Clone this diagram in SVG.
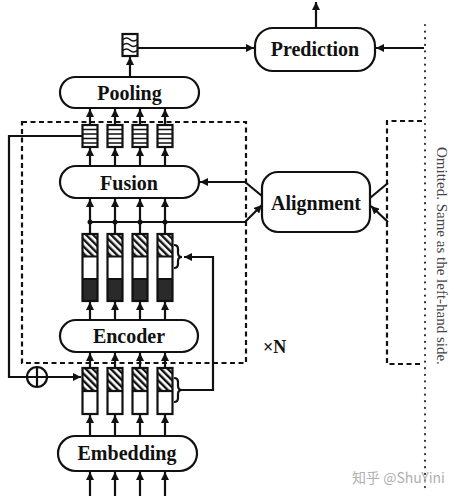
<svg xmlns="http://www.w3.org/2000/svg" xmlns:xlink="http://www.w3.org/1999/xlink" width="455" height="496" viewBox="0 0 455 496">
<style>
.box{fill:#fff;stroke:#111;stroke-width:2.2}
.frame{fill:none;stroke:#111;stroke-width:2.2}
.lbl{font-family:"Liberation Serif","Times New Roman",serif;font-weight:bold;font-size:20px;fill:#111;text-anchor:middle}
.ln{fill:none;stroke:#111;stroke-width:2.2}
.thin{fill:none;stroke:#111;stroke-width:1.6}
.ar{fill:none;stroke:#111;stroke-width:2.2;marker-end:url(#ah)}
.dash{fill:none;stroke:#111;stroke-width:2.2;stroke-dasharray:5 3.5}
.dot{fill:none;stroke:#333;stroke-width:2.2;stroke-dasharray:0.1 6.5;stroke-linecap:round}
</style>
<defs>
<marker id="ah" markerWidth="8" markerHeight="8" refX="8" refY="4" orient="auto" markerUnits="userSpaceOnUse"><path d="M0,0 L8,4 L0,8 z" fill="#111"/></marker>
<pattern id="hatch" width="5" height="5" patternUnits="userSpaceOnUse" patternTransform="rotate(-45)"><rect width="5" height="5" fill="#fff"/><rect width="2.4" height="5" fill="#111"/></pattern>
<g id="tTop"><rect x="-7.5" y="125" width="15" height="22" class="box"/><path d="M-7.5,129.5h15M-7.5,134h15M-7.5,138.5h15M-7.5,143h15" class="thin"/></g>
<g id="tMid"><rect x="-7.5" y="234" width="15" height="22.5" fill="url(#hatch)"/><rect x="-7.5" y="256.5" width="15" height="22.5" fill="#fff"/><rect x="-7.5" y="279" width="15" height="22" fill="#2a2a2a"/><rect x="-7.5" y="234" width="15" height="67" class="frame"/><path d="M-7.5,256.5h15M-7.5,279h15" class="ln"/></g>
<g id="tLow"><rect x="-7.5" y="368" width="15" height="23" fill="url(#hatch)"/><rect x="-7.5" y="391" width="15" height="23" fill="#fff"/><rect x="-7.5" y="368" width="15" height="46" class="frame"/><path d="M-7.5,391h15" class="ln"/></g>
</defs>
<rect width="455" height="496" fill="#fff"/>

<g id="frames">
<rect x="22" y="122" width="224" height="241" class="dash"/>
<path d="M422,121 H387 V364 H422" class="dash"/>
<path d="M425,25 V490" class="dot"/>
</g>

<g id="connectors">
<path d="M130,77 V57" class="ar"/>
<path d="M138,48 H254" class="ar"/>
<path d="M316,28 V2" class="ar"/>
<path d="M424,48 H376" class="ar"/>
<path d="M90,124 V109" class="ar"/><path d="M115,124 V109" class="ar"/><path d="M140,124 V109" class="ar"/><path d="M165,124 V109" class="ar"/>
<path d="M90,166 V148" class="ar"/><path d="M115,166 V148" class="ar"/><path d="M140,166 V148" class="ar"/><path d="M165,166 V148" class="ar"/>
<path d="M90,233 V199" class="ar"/><path d="M115,233 V199" class="ar"/><path d="M140,233 V199" class="ar"/><path d="M165,233 V199" class="ar"/>
<path d="M90,320 V302" class="ar"/><path d="M115,320 V302" class="ar"/><path d="M140,320 V302" class="ar"/><path d="M165,320 V302" class="ar"/>
<path d="M90,367 V353" class="ar"/><path d="M115,367 V353" class="ar"/><path d="M140,367 V353" class="ar"/><path d="M165,367 V353" class="ar"/>
<path d="M90,435 V415" class="ar"/><path d="M115,435 V415" class="ar"/><path d="M140,435 V415" class="ar"/><path d="M165,435 V415" class="ar"/>
<path d="M90,496 V472" class="ar"/><path d="M115,496 V472" class="ar"/><path d="M140,496 V472" class="ar"/><path d="M165,496 V472" class="ar"/>
<path d="M90,222 H245 L262,205" class="ar"/>
<circle cx="90" cy="222" r="2.5" fill="#111"/><circle cx="115" cy="222" r="2.5" fill="#111"/><circle cx="140" cy="222" r="2.5" fill="#111"/><circle cx="165" cy="222" r="2.5" fill="#111"/>
<path d="M262,196 L245,182 H200" class="ar"/>
<path d="M370,198 L388,183" class="ln"/>
<path d="M388,222 L371,206" class="ar"/>
<path d="M174,245 Q178,245 178,249 V253 Q178,257 182,257 Q178,257 178,261 V264 Q178,268 174,268" class="ln"/>
<path d="M174,378 Q178,378 178,382 V386 Q178,390 182,390 Q178,390 178,394 V398 Q178,402 174,402" class="ln"/>
<path d="M182,390 H213 V257 H184" class="ar"/>
<path d="M82,136 H9 V377 H27" class="ln"/>
<path d="M47,377 H81" class="ar"/>
<circle cx="37" cy="377" r="10" class="frame"/>
<path d="M27,377 H47 M37,367 V387" class="ln"/>
</g>

<g id="output"><rect x="122.5" y="34" width="15" height="22" class="box"/><path d="M123,39.5 q3.5,-3 7,0 t7,0 M123,45 q3.5,-3 7,0 t7,0 M123,50.5 q3.5,-3 7,0 t7,0" class="thin"/></g>
<g id="prediction"><rect x="255" y="28" width="120" height="43" rx="18" class="box"/><text x="315" y="56" class="lbl">Prediction</text></g>
<g id="pooling"><rect x="60" y="77" width="139" height="31" rx="15.5" class="box"/><text x="129.5" y="100" class="lbl">Pooling</text></g>
<g id="tokens-top"><use xlink:href="#tTop" x="90"/><use xlink:href="#tTop" x="115"/><use xlink:href="#tTop" x="140"/><use xlink:href="#tTop" x="165"/></g>
<g id="fusion"><rect x="60" y="166" width="139" height="32" rx="16" class="box"/><text x="129" y="189.5" class="lbl">Fusion</text></g>
<g id="alignment"><rect x="262" y="172" width="108" height="60" rx="16" class="box"/><text x="316" y="210" class="lbl">Alignment</text></g>
<g id="tokens-mid"><use xlink:href="#tMid" x="90"/><use xlink:href="#tMid" x="115"/><use xlink:href="#tMid" x="140"/><use xlink:href="#tMid" x="165"/></g>
<g id="encoder"><rect x="60" y="320" width="138" height="32" rx="16" class="box"/><text x="129" y="343" class="lbl">Encoder</text></g>
<g id="tokens-low"><use xlink:href="#tLow" x="90"/><use xlink:href="#tLow" x="115"/><use xlink:href="#tLow" x="140"/><use xlink:href="#tLow" x="165"/></g>
<g id="embedding"><rect x="58" y="436" width="139" height="35" rx="17.5" class="box"/><text x="127" y="460" class="lbl">Embedding</text></g>

<g id="labels">
<text x="263" y="353" font-family="Liberation Serif, serif" font-weight="bold" font-size="18" fill="#111">×N</text>
<text transform="translate(437,147) rotate(90)" font-family="Liberation Serif, serif" font-size="15" fill="#444">Omitted. Same as the left-hand side.</text>
<text x="352" y="483" font-family="Noto Sans CJK SC, sans-serif" font-size="14" fill="#b0b0b0">知乎 @ShuYini</text>
</g>
</svg>
